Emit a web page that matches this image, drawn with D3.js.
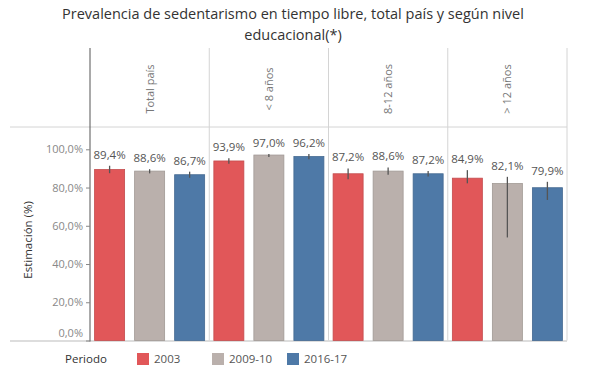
<!DOCTYPE html>
<html>
<head>
<meta charset="utf-8">
<script src="https://cdn.jsdelivr.net/npm/d3@7"></script>
<style>
  html, body { margin: 0; padding: 0; background: #fff; }
  svg { display: block; font-family: "Open Sans", "Noto Sans", sans-serif; }
</style>
</head>
<body>
<svg id="chart" width="591" height="379"></svg>
<script>
// ---- data ----
const categories = ["Total país", "< 8 años", "8-12 años", "> 12 años"];
const periods = ["2003", "2009-10", "2016-17"];
const values2003 = [89.4, 93.9, 87.2, 84.9];
const values2009 = [88.6, 97.0, 88.6, 82.1];
const values2016 = [86.7, 96.2, 87.2, 79.9];
const lower2003 = [87.5, 92.5, 84.4, 82.2];
const upper2003 = [91.4, 95.3, 90.0, 89.1];
const lower2009 = [87.4, 96.0, 86.7, 53.9];
const upper2009 = [89.6, 97.6, 90.5, 85.6];
const lower2016 = [85.1, 94.8, 85.8, 73.5];
const upper2016 = [88.3, 97.6, 88.6, 83.0];
const yTicks = [0, 20, 40, 60, 80, 100];
const periodColors = ["#E15759", "#BAB0AC", "#4E79A7"];
const titleLines = ["Prevalencia de sedentarismo en tiempo libre, total país y según nivel", "educacional(*)"];
const yTitle = "Estimación (%)";
const legendTitle = "Periodo";

const seriesValues = [values2003, values2009, values2016];
const seriesLower = [lower2003, lower2009, lower2016];
const seriesUpper = [upper2003, upper2009, upper2016];

const rows = [];
categories.forEach((c, ci) => {
  periods.forEach((p, pi) => {
    rows.push({cat: c, period: p, pi, value: seriesValues[pi][ci], lo: seriesLower[pi][ci], hi: seriesUpper[pi][ci]});
  });
});

// ---- layout ----
const svg = d3.select("#chart");
const plotLeft = 90, plotRight = 567, plotTop = 149.3, plotBottom = 340.5, headerTop = 48, headerBottom = 127;

const x0 = d3.scaleBand().domain(categories).range([plotLeft, plotRight]).padding(0);
const x1 = d3.scaleBand().domain(periods).range([0, x0.bandwidth()]).paddingInner(0.25).paddingOuter(0.115);
const y = d3.scaleLinear().domain([0, 100]).range([plotBottom, plotTop]);
const color = d3.scaleOrdinal().domain(periods).range(periodColors);

const loc = d3.formatLocale({decimal: ",", thousands: ".", grouping: [3], currency: ["", "€"]});
const fmt = v => loc.format(".1f")(v) + "%";

// title
svg.append("g").selectAll("text").data(titleLines).join("text")
  .attr("x", 293).attr("y", (d, i) => 19 + i * 21)
  .attr("text-anchor", "middle")
  .attr("font-size", 14.5)
  .attr("fill", "#333")
  .text(d => d);

// frame lines
const lineColor = "#d4d4d4";
svg.append("line").attr("x1", 10).attr("x2", plotRight).attr("y1", headerBottom).attr("y2", headerBottom).attr("stroke", lineColor);
svg.append("line").attr("x1", 10).attr("x2", plotRight).attr("y1", plotBottom + 0.5).attr("y2", plotBottom + 0.5).attr("stroke", "#bbb");
categories.forEach((c, i) => {
  const xx = x0(c) + x0.bandwidth();
  svg.append("line").attr("x1", xx).attr("x2", xx).attr("y1", headerTop).attr("y2", plotBottom).attr("stroke", lineColor);
});

// header labels
svg.append("g").selectAll("text").data(categories).join("text")
  .attr("transform", d => `translate(${x0(d) + x0.bandwidth() / 2 + 4},89) rotate(-90)`)
  .attr("text-anchor", "middle")
  .attr("font-size", 11)
  .attr("fill", "#777")
  .text(d => d);

// bars
const g = svg.append("g");
g.selectAll("rect").data(rows).join("rect")
  .attr("x", d => x0(d.cat) + x1(d.period))
  .attr("width", x1.bandwidth())
  .attr("y", d => y(d.value))
  .attr("height", d => y(0) - y(d.value))
  .attr("fill", d => color(d.period))
  .attr("stroke", d => d3.color(color(d.period)).darker(0.4))
  .attr("stroke-width", 0.8);

// error bars
g.selectAll("line.err").data(rows).join("line").attr("class", "err")
  .attr("x1", d => x0(d.cat) + x1(d.period) + x1.bandwidth() / 2)
  .attr("x2", d => x0(d.cat) + x1(d.period) + x1.bandwidth() / 2)
  .attr("y1", d => y(d.lo)).attr("y2", d => y(d.hi))
  .attr("stroke", "#555").attr("stroke-width", 1.3);

// value labels
g.selectAll("text.val").data(rows).join("text").attr("class", "val")
  .attr("x", d => x0(d.cat) + x1(d.period) + x1.bandwidth() / 2)
  .attr("y", d => y(d.hi) - 7)
  .attr("text-anchor", "middle")
  .attr("font-size", 11.5)
  .attr("fill", "#555")
  .text(d => fmt(d.value));

// y axis
const yAxis = svg.append("g").attr("transform", `translate(${plotLeft},0)`)
  .call(d3.axisLeft(y).tickValues(yTicks).tickFormat(v => loc.format(".1f")(v) + "%").tickSize(4).tickPadding(3));
yAxis.select(".domain").attr("stroke", "#555").attr("d", `M0,${headerTop}V${plotBottom + 1}`);
yAxis.selectAll(".tick line").attr("stroke", "#888");
yAxis.selectAll(".tick text").attr("fill", "#888").attr("font-size", 11).attr("font-family", "Open Sans, Noto Sans, sans-serif");
yAxis.selectAll(".tick").filter(d => d === 0).select("text").attr("dy", "-0.35em");

// y title
svg.append("text")
  .attr("transform", `translate(32,${(plotTop + plotBottom) / 2 - 5}) rotate(-90)`)
  .attr("text-anchor", "middle")
  .attr("font-size", 11.5)
  .attr("fill", "#333")
  .text(yTitle);

// legend
const leg = svg.append("g");
leg.append("text").attr("x", 65).attr("y", 363).attr("font-size", 11.5).attr("fill", "#333").text(legendTitle);
const legX = [137, 212, 287];
periods.forEach((p, i) => {
  leg.append("rect").attr("x", legX[i]).attr("y", 353).attr("width", 12).attr("height", 12).attr("fill", color(p));
  leg.append("text").attr("x", legX[i] + 17).attr("y", 363).attr("font-size", 11.5).attr("fill", "#555").text(p);
});
</script>
</body>
</html>
